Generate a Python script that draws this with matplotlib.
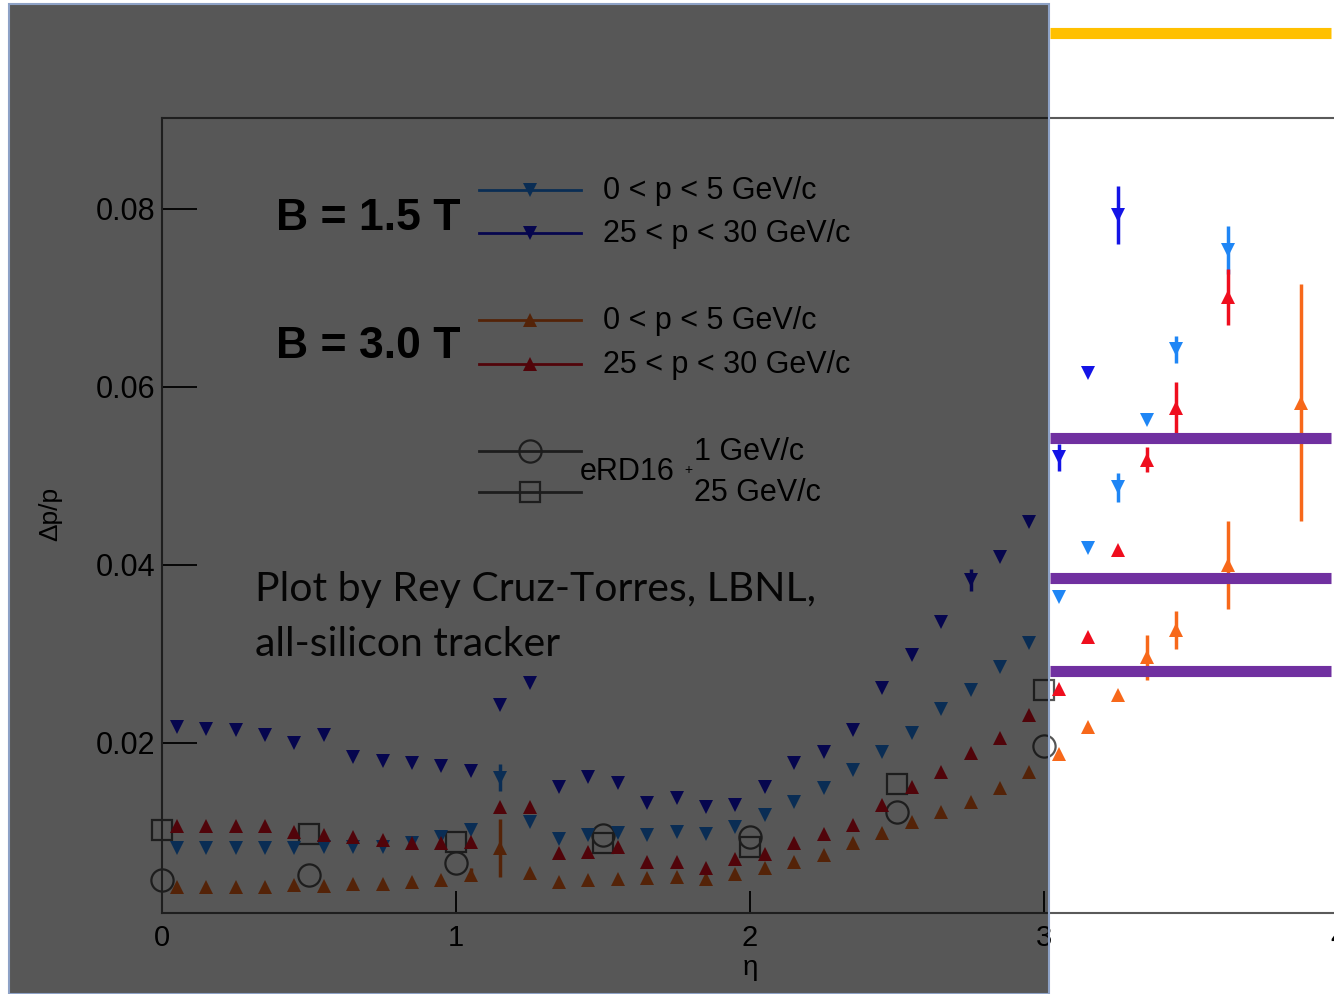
import matplotlib
matplotlib.use('Agg')
import matplotlib.pyplot as plt
from matplotlib.lines import Line2D
from matplotlib.patches import Rectangle

W, H = 1334, 994

# eta bin centres (last two bins are wider)
eta = [0.05, 0.15, 0.25, 0.35, 0.45, 0.55, 0.65, 0.75, 0.85, 0.95,
       1.05, 1.15, 1.25, 1.35, 1.45, 1.55, 1.65, 1.75, 1.85, 1.95,
       2.05, 2.15, 2.25, 2.35, 2.45, 2.55, 2.65, 2.75, 2.85, 2.95,
       3.05, 3.15, 3.25, 3.35, 3.45, 3.625, 3.875]

# B = 1.5 T, 25 < p < 30 GeV/c
b15_high = [0.0218, 0.0216, 0.0215, 0.0209, 0.0200, 0.0209, 0.0184, 0.0180, 0.0178, 0.0174,
            0.0169, 0.0243, 0.0267, 0.0151, 0.0162, 0.0155, 0.0133, 0.0138, 0.0128, 0.0130,
            0.0151, 0.0178, 0.0190, 0.0215, 0.0262, 0.0299, 0.0336, 0.0383, 0.0409, 0.0448,
            0.0521, 0.0616, 0.0793]
b15_high_err = [0] * 27 + [0.0012, 0, 0, 0.0015, 0, 0.0033]

# B = 1.5 T, 0 < p < 5 GeV/c
b15_low = [0.0082, 0.0082, 0.0082, 0.0082, 0.0082, 0.0083, 0.0083, 0.0083, 0.0088, 0.0094,
           0.0102, 0.0161, 0.0111, 0.0092, 0.0097, 0.0099, 0.0097, 0.0100, 0.0098, 0.0106,
           0.0119, 0.0134, 0.0149, 0.0170, 0.0190, 0.0211, 0.0238, 0.0260, 0.0285, 0.0312,
           0.0364, 0.0419, 0.0487, 0.0563, 0.0642, 0.0754]
b15_low_err = [0] * 11 + [0.0015] + [0] * 20 + [0.0016, 0, 0.0015, 0.0027]

# B = 3.0 T, 25 < p < 30 GeV/c
b30_high = [0.0107, 0.0107, 0.0107, 0.0107, 0.0100, 0.0097, 0.0094, 0.0091, 0.0088, 0.0088,
            0.0089, 0.0128, 0.0128, 0.0076, 0.0078, 0.0083, 0.0066, 0.0066, 0.0060, 0.0070,
            0.0075, 0.0088, 0.0098, 0.0108, 0.0130, 0.0151, 0.0167, 0.0189, 0.0206, 0.0231,
            0.0261, 0.0319, 0.0417, 0.0518, 0.0576, 0.0701]
b30_high_err = [0] * 33 + [0.0014, 0.0029, 0.0031]

# B = 3.0 T, 0 < p < 5 GeV/c
b30_low = [0.0038, 0.0038, 0.0038, 0.0038, 0.0040, 0.0039, 0.0042, 0.0042, 0.0044, 0.0046,
           0.0052, 0.0082, 0.0054, 0.0044, 0.0046, 0.0047, 0.0048, 0.0049, 0.0047, 0.0053,
           0.0060, 0.0066, 0.0074, 0.0088, 0.0099, 0.0111, 0.0122, 0.0134, 0.0149, 0.0167,
           0.0188, 0.0218, 0.0254, 0.0296, 0.0327, 0.0400, 0.0582]
b30_low_err = [0] * 10 + [0.0007, 0.0033] + [0] * 21 + [0.0025, 0.0021, 0.0049, 0.0133]

# eRD16 reference points
erd_eta = [0, 0.5, 1, 1.5, 2, 2.5, 3]
erd_1gev = [0.0046, 0.0052, 0.0065, 0.0097, 0.0094, 0.0123, 0.0197]
erd_25gev = [0.0102, 0.0098, 0.0089, 0.0088, 0.0083, 0.0154, 0.0260]

xticks = [0, 1, 2, 3, 4]
yticks = [0.02, 0.04, 0.06, 0.08]
ytick_labels = ['0.02', '0.04', '0.06', '0.08']

c_lblue = '#1f86f5'
c_dblue = '#1414e6'
c_orange = '#f7681a'
c_red = '#ef0e1e'


def fx(x):
    return x / W


def fy(y):
    return 1 - y / H


plt.rcParams['font.family'] = ['Liberation Sans', 'DejaVu Sans']

fig = plt.figure(figsize=(W / 100, H / 100), dpi=100)
ax = fig.add_axes([fx(162), fy(913), (1338 - 162) / W, (913 - 118) / H])

series = [
    (b15_low, b15_low_err, 'v', c_lblue),
    (b15_high, b15_high_err, 'v', c_dblue),
    (b30_low, b30_low_err, '^', c_orange),
    (b30_high, b30_high_err, '^', c_red),
]
for vals, errs, mk, col in series:
    ax.errorbar(eta[:len(vals)], vals, yerr=errs, fmt=mk, color=col, ms=10,
                mew=0, elinewidth=2.5, capsize=0, clip_on=False)

ax.plot(erd_eta, erd_1gev, 'o', ms=16, mfc='none', mec='#555555', mew=1.6, clip_on=False)
ax.plot(erd_eta, erd_25gev, 's', ms=15, mfc='none', mec='#555555', mew=1.6, clip_on=False)

ax.set_xlim(0, 4)
ax.set_ylim(0.0009, 0.0902)
ax.set_xticks(xticks)
ax.set_xticklabels([str(t) for t in xticks])
ax.set_yticks(yticks)
ax.set_yticklabels(ytick_labels)
ax.tick_params(axis='y', direction='in', length=25, width=1.3, labelsize=22, pad=5)
ax.tick_params(axis='x', direction='in', length=16, width=1.3, labelsize=21, pad=8)
for s in ax.spines.values():
    s.set_color('#5a5a5a')
    s.set_linewidth(1.5)

fig.text(fx(50), fy(514), 'Δp/p', rotation=90, fontsize=19, ha='center', va='center')
fig.text(fx(750), fy(968), 'η', fontsize=20, ha='center', va='center')

# legend block
leg_rows = [
    (190, c_lblue, 'v', '0 < p < 5 GeV/c'),
    (233, c_dblue, 'v', '25 < p < 30 GeV/c'),
    (320, c_orange, '^', '0 < p < 5 GeV/c'),
    (364, c_red, '^', '25 < p < 30 GeV/c'),
]
for y, col, mk, label in leg_rows:
    fig.add_artist(Line2D([fx(479), fx(581)], [fy(y), fy(y)], color=col, lw=2, zorder=5))
    fig.add_artist(Line2D([fx(530)], [fy(y)], marker=mk, ms=10, color=col, mew=0, zorder=5))
    fig.text(fx(603), fy(y + 1), label, fontsize=22, ha='left', va='center')

for y, mk, ms in [(451, 'o', 16), (492, 's', 15)]:
    fig.add_artist(Line2D([fx(479), fx(581)], [fy(y), fy(y)], color='#555555', lw=2, zorder=5))
    fig.add_artist(Line2D([fx(530)], [fy(y)], marker=mk, ms=ms, mfc='none',
                          mec='#555555', mew=1.6, zorder=5))
fig.text(fx(580), fy(472), 'eRD16', fontsize=22, ha='left', va='center')
fig.text(fx(684), fy(470), '+', fontsize=10, ha='left', va='center')
fig.text(fx(694), fy(452), '1 GeV/c', fontsize=22, ha='left', va='center')
fig.text(fx(694), fy(493), '25 GeV/c', fontsize=22, ha='left', va='center')

fig.text(fx(276), fy(219), 'B = 1.5 T', fontsize=32, fontweight='bold', ha='left', va='center')
fig.text(fx(276), fy(346), 'B = 3.0 T', fontsize=32, fontweight='bold', ha='left', va='center')

fig.text(fx(255), fy(590), 'Plot by Rey Cruz-Torres, LBNL,', fontsize=29.5,
         family='Lato', color='#111111', ha='left', va='center')
fig.text(fx(255), fy(645), 'all-silicon tracker', fontsize=29.5,
         family='Lato', color='#111111', ha='left', va='center')

# dark shading over the left part of the slide
fig.add_artist(Rectangle((fx(9), 0), (1049 - 9) / W, fy(4), transform=fig.transFigure,
                         facecolor=(0, 0, 0, 0.66), edgecolor='#8ea2c6', lw=1.5, zorder=10))

# slide rules on the right
fig.add_artist(Line2D([fx(1050), fx(1331)], [fy(33), fy(33)], color='#ffc000', lw=8,
                      solid_capstyle='butt', zorder=11))
for y in [437.5, 577.5, 671]:
    fig.add_artist(Line2D([fx(1050), fx(1331)], [fy(y), fy(y)], color='#7030a0', lw=8,
                          solid_capstyle='butt', zorder=11))

fig.savefig('out.png', dpi=100)
